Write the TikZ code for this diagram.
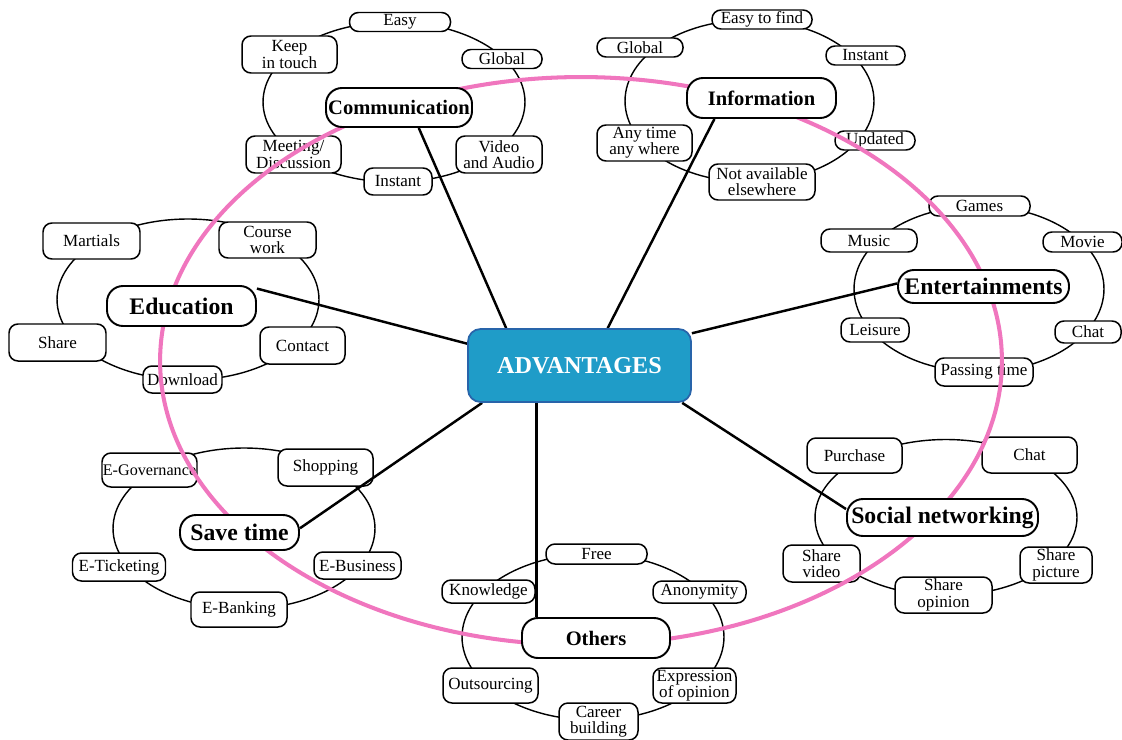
\documentclass[tikz,border=0pt]{standalone}
\usepackage{fontspec}
\setmainfont{Liberation Serif}

\definecolor{ringpink}{RGB}{240,118,190}
\definecolor{advblue}{RGB}{31,156,200}
\definecolor{advedge}{RGB}{40,100,170}

\pgfdeclarelayer{back}
\pgfdeclarelayer{mid}
\pgfsetlayers{back,mid,main}

\begin{document}
\begin{tikzpicture}[x=0.02cm, y=-0.02cm,
	leaf/.style={draw, fill=white, line width=0.85pt, rounded corners=0.18cm, inner sep=0pt, align=center, font=\fontsize{9.7}{9.3}\selectfont},
	hub/.style={draw, fill=white, line width=1.1pt, rounded corners=0.32cm, inner sep=0pt, font=\bfseries\fontsize{11.7}{12}\selectfont},
	bighub/.style={hub, font=\bfseries\fontsize{13.5}{14}\selectfont},
	wh/.style 2 args={minimum width=#1*0.02cm, minimum height=#2*0.02cm},
	ring/.style={line width=0.8pt},
	spoke/.style={line width=1.4pt}]
	\useasboundingbox (0,0) rectangle (1122,740);

	% Rings and leaves:
	\begin{pgfonlayer}{back}
	\draw[ring] (394,102) ellipse [x radius=2.62cm, y radius=1.60cm];
	\draw[ring] (749.5,101) ellipse [x radius=2.49cm, y radius=1.62cm];
	\draw[ring] (188,299.5) ellipse [x radius=2.62cm, y radius=1.61cm];
	\draw[ring] (979,289) ellipse [x radius=2.50cm, y radius=1.66cm];
	\draw[ring] (244,528.5) ellipse [x radius=2.62cm, y radius=1.61cm];
	\draw[ring] (946,517.5) ellipse [x radius=2.62cm, y radius=1.56cm];
	\draw[ring] (593,637) ellipse [x radius=2.62cm, y radius=1.66cm];

	\node[leaf, wh={101}{19}] (easyA) at (400,22) {Easy};
	\node[leaf, wh={80}{19}] (globA) at (502,59) {Global};
	\node[leaf, wh={95}{37}] (keep) at (289.5,54.5) {Keep\\in touch};
	\node[leaf, wh={95}{37}] (meet) at (293.5,154.5) {Meeting/\\Discussion};
	\node[leaf, wh={86}{37}] (video) at (499,154.5) {Video\\and Audio};
	\node[leaf, wh={68}{27}] (instA) at (398,181.5) {Instant};

	\node[leaf, wh={100}{19}] (easyfind) at (762,19.5) {Easy to find};
	\node[leaf, wh={86}{19}] (globB) at (640,47.5) {Global};
	\node[leaf, wh={79}{19}] (instB) at (865.5,55.5) {Instant};
	\node[leaf, wh={95}{36}] (anytime) at (644.5,143) {Any time\\any where};
	\node[leaf, wh={80}{19}] (upd) at (875,140.5) {Updated};
	\node[leaf, wh={106}{36}] (notavail) at (762,182) {Not available\\elsewhere};

	\node[leaf, wh={97}{36}] (mart) at (91.5,241) {Martials};
	\node[leaf, wh={97}{36}] (course) at (267.5,240) {Course\\work};
	\node[leaf, wh={97}{37}] (shareA) at (57.5,342.5) {Share};
	\node[leaf, wh={85}{37}] (contact) at (302.5,345.5) {Contact};
	\node[leaf, wh={79}{27}] (download) at (182.5,379.5) {Download};

	\node[leaf, wh={101}{20}] (games) at (979.5,206) {Games};
	\node[leaf, wh={96}{23}] (music) at (869,240.5) {Music};
	\node[leaf, wh={79}{20}] (movie) at (1082.5,242) {Movie};
	\node[leaf, wh={68}{24}] (leisure) at (875,330) {Leisure};
	\node[leaf, wh={66}{22}] (chatA) at (1088,332) {Chat};
	\node[leaf, wh={98}{28}] (passing) at (984,372) {Passing time};

	\node[leaf, wh={95}{34}, font=\fontsize{9.2}{9.3}\selectfont] (egov) at (149.5,470) {E-Governance};
	\node[leaf, wh={95}{37}] (shop) at (325.5,467.5) {Shopping};
	\node[leaf, wh={93}{28}] (eticket) at (119,567) {E-Ticketing};
	\node[leaf, wh={87}{27}] (ebiz) at (357.5,565.5) {E-Business};
	\node[leaf, wh={96}{35}] (ebank) at (239,609.5) {E-Banking};

	\node[leaf, wh={95}{35}] (purchase) at (854.5,455.5) {Purchase};
	\node[leaf, wh={95}{36}] (chatB) at (1029.5,455) {Chat};
	\node[leaf, wh={77}{37}] (svideo) at (821.5,563.5) {Share\\video};
	\node[leaf, wh={72}{36}] (spic) at (1056,565) {Share\\picture};
	\node[leaf, wh={97}{36}] (sop) at (943.5,595) {Share\\opinion};

	\node[leaf, wh={101}{20}] (free) at (596.5,554) {Free};
	\node[leaf, wh={93}{23}] (know) at (488.5,591.5) {Knowledge};
	\node[leaf, wh={93}{22}] (anon) at (699.5,592) {Anonymity};
	\node[leaf, wh={95}{35}] (outs) at (490.5,685.5) {Outsourcing};
	\node[leaf, wh={83}{35}] (expr) at (694.5,685.5) {Expression\\of opinion};
	\node[leaf, wh={79}{37}] (career) at (598.5,721.5) {Career\\building};
	\end{pgfonlayer}

	% Topics:
	\node[hub, wh={146}{39}] (comm) at (399,107.5) {Communication};
	\node[hub, wh={149}{40}] (info) at (761.5,98) {Information};
	\node[bighub, wh={149}{40}] (edu) at (181.5,306) {Education};
	\node[bighub, wh={171}{33}] (ent) at (983.5,286.5) {Entertainments};
	\node[bighub, wh={119}{35}] (sav) at (239.5,532.5) {Save time};
	\node[bighub, wh={191}{37}] (soc) at (942.5,517.5) {Social networking};
	\node[hub, wh={148}{40}] (oth) at (596,638) {Others};
	\node[draw=advedge, fill=advblue, line width=1pt, rounded corners=0.25cm, inner sep=0pt, wh={223}{73}, text=white, font=\bfseries\fontsize{13.8}{14}\selectfont] (adv) at (579.5,365.5) {ADVANTAGES};

	% Big ring and spokes:
	\begin{pgfonlayer}{mid}
	\draw[ringpink, line width=2.3pt] (581,361) ellipse [x radius=8.42cm, y radius=5.68cm];
	\draw[spoke] (adv.153) -- (comm.-46);
	\draw[spoke] (adv.53) -- (info.204);
	\draw[spoke] (adv.169) -- (edu.13);
	\draw[spoke] (adv.16) -- (ent.178);
	\draw[spoke] (adv.-159) -- (sav.4);
	\draw[spoke] (adv.221) -- (adv.221 |- oth.north);
	\draw[spoke] (adv.-20.5) -- (soc.175);
	\end{pgfonlayer}
\end{tikzpicture}
\end{document}
